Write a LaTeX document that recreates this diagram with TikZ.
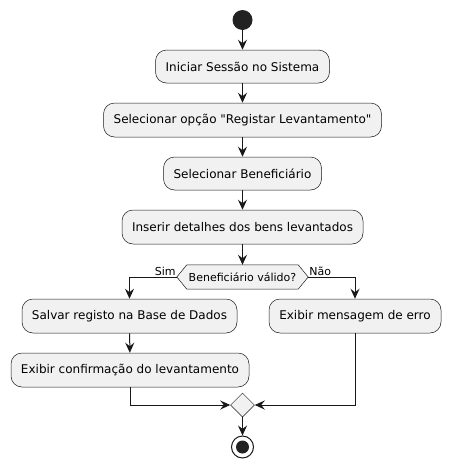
\documentclass[tikz,border=0pt]{standalone}
\usepackage{fontspec}
\setmainfont{DejaVu Sans}[Ligatures=TeXOff]
\usetikzlibrary{shapes.geometric,arrows.meta}
\definecolor{boxfill}{HTML}{F1F1F1}
\definecolor{linec}{HTML}{181818}
\definecolor{startc}{HTML}{222222}
\begin{document}
\begin{tikzpicture}[x=1pt,y=-1pt,
  act/.style={draw=linec,fill=boxfill,rounded corners=11pt,line width=0.5pt,
    inner sep=0pt,minimum height=34pt,font=\fontsize{12}{14}\selectfont},
  flow/.style={draw=linec,line width=1pt,-{Stealth[length=10pt,width=9pt,inset=3.5pt]}},
  lbl/.style={font=\fontsize{11}{13}\selectfont,inner sep=1pt}]
\useasboundingbox (0,0) rectangle (451,469);
\node[circle,fill=startc,minimum size=20pt,inner sep=0pt] (start) at (242.5,20) {};
\node[act,minimum width=174pt,minimum height=33pt] (b1) at (242.5,66.5) {Iniciar Sessão no Sistema};
\node[act,minimum width=278pt] (b2) at (242.5,120) {Selecionar opção "Registar Levantamento"};
\node[act,minimum width=158pt,minimum height=33pt] (b3) at (242.5,173.5) {Selecionar Beneficiário};
\node[act,minimum width=241pt] (b4) at (242.5,227) {Inserir detalhes dos bens levantados};
\node[minimum width=131pt,minimum height=24pt,inner sep=0pt,font=\fontsize{11}{13}\selectfont] (dec) at (242.5,277) {Beneficiário válido?};
\draw[draw=linec,fill=boxfill,line width=0.5pt]
  (dec.west) -- ([xshift=10pt]dec.north west) -- ([xshift=-10pt]dec.north east)
  -- (dec.east) -- ([xshift=-10pt]dec.south east) -- ([xshift=10pt]dec.south west) -- cycle;
\node[font=\fontsize{11}{13}\selectfont,inner sep=0pt] at (dec.center) {Beneficiário válido?};
\node[lbl,anchor=south east] (sim) at (dec.west) {Sim};
\node[lbl,anchor=south west] (nao) at (dec.east) {Não};
\node[act,minimum width=215pt] (s1) at (129.5,316) {Salvar registo na Base de Dados};
\node[act,minimum width=172pt] (e1) at (355,316) {Exibir mensagem de erro};
\node[act,minimum width=238pt] (s2) at (130,370) {Exibir confirmação do levantamento};
\node[diamond,draw=linec,fill=boxfill,line width=0.5pt,minimum width=24pt,minimum height=24pt,inner sep=0pt,aspect=1] (merge) at (242.5,405) {};
\node[circle,draw=linec,line width=1pt,minimum size=22pt,inner sep=0pt] (stop) at (242.5,447) {};
\fill[startc] (stop.center) circle (6.5pt);
\draw[flow] (start) -- (b1);
\draw[flow] (b1) -- (b2);
\draw[flow] (b2) -- (b3);
\draw[flow] (b3) -- (b4);
\draw[flow] (b4) -- (dec.north);
\draw[flow] (dec.west) -| (s1.north);
\draw[flow] (dec.east) -| (e1.north);
\draw[flow] (s1) -- (s2);
\draw[flow] (s2.south) |- (merge.west);
\draw[flow] (e1.south) |- (merge.east);
\draw[flow] (merge) -- (stop);
\end{tikzpicture}
\end{document}
